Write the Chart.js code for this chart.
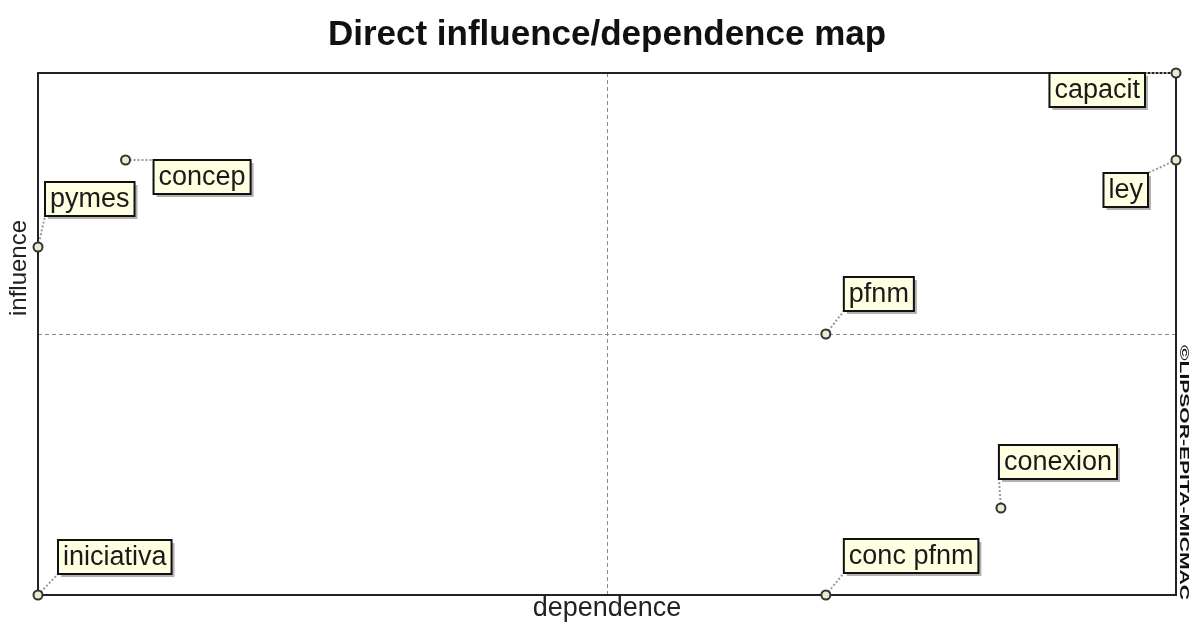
<!DOCTYPE html>
<html>
<head>
<meta charset="utf-8">
<title>Direct influence/dependence map</title>
<script src="https://cdn.jsdelivr.net/npm/chart.js@4.4.0/dist/chart.umd.min.js"></script>
<style>
  html, body { margin: 0; padding: 0; background: #fff; }
  #wrap { width: 1192px; height: 625px; position: relative; }
</style>
</head>
<body>
<div id="wrap"><canvas id="mapa"></canvas></div>
<script>
const variables  = ['capacit', 'ley', 'concep', 'pymes', 'pfnm', 'conexion', 'iniciativa', 'conc pfnm'];
const dependence = [13, 13, 1, 0, 9, 11, 0, 9];
const influence  = [6, 5, 5, 4, 3, 1, 0, 0];

// Ejes y líneas de referencia (cuadrantes)
const xRange = [0, 13];
const yRange = [0, 6];
const refX = 6.5;
const refY = 3;

// Colocación de etiquetas: lado del punto, desplazamiento horizontal y vertical
const labelPlace = [
    ['r', -31, 0], ['r', -28, 13], ['l', 28, 0], ['l', 7, -65],
    ['l', 18, -57], ['l', -2, -63], ['l', 20, -55], ['l', 18, -56]
];

const FONT = '"Liberation Sans", Arial, sans-serif';

const mapaPlugin = {
    id: 'mapaPlugin',
    beforeDatasetsDraw(chart) {
        const ctx = chart.ctx, a = chart.chartArea;
        const xs = chart.scales.x, ys = chart.scales.y;
        ctx.save();
        // líneas de cuadrantes
        ctx.strokeStyle = '#8a8a8a';
        ctx.lineWidth = 1;
        ctx.setLineDash([4, 3]);
        const mx = Math.round(xs.getPixelForValue(refX)) + 0.5;
        const my = Math.round(ys.getPixelForValue(refY)) + 0.5;
        ctx.beginPath();
        ctx.moveTo(mx, a.top); ctx.lineTo(mx, a.bottom);
        ctx.moveTo(a.left, my); ctx.lineTo(a.right, my);
        ctx.stroke();
        ctx.setLineDash([]);
        // marco
        ctx.strokeStyle = '#222';
        ctx.lineWidth = 2;
        ctx.strokeRect(a.left, a.top, a.right - a.left, a.bottom - a.top);

        // conectores punteados
        ctx.font = '27px ' + FONT;
        ctx.strokeStyle = '#9a9a9a';
        ctx.lineWidth = 2;
        ctx.setLineDash([2, 2]);
        chart._cajas = [];
        variables.forEach(function(nombre, i) {
            const px = xs.getPixelForValue(dependence[i]);
            const py = ys.getPixelForValue(influence[i]);
            const w = ctx.measureText(nombre).width + 10;
            const h = 34;
            const p = labelPlace[i];
            const left = p[0] === 'l' ? px + p[1] : px + p[1] - w;
            const top = py + p[2];
            chart._cajas.push({ nombre: nombre, left: left, top: top, w: w, h: h });
            // esquina más cercana
            const cx = Math.abs(left - px) < Math.abs(left + w - px) ? left : left + w;
            const cy = Math.abs(top - py) < Math.abs(top + h - py) ? top : top + h;
            ctx.beginPath();
            ctx.moveTo(px, py);
            ctx.lineTo(cx, cy);
            ctx.stroke();
        });
        ctx.restore();
    },
    afterDatasetsDraw(chart) {
        const ctx = chart.ctx;
        ctx.save();
        // etiquetas con sombra
        ctx.font = '27px ' + FONT;
        ctx.textBaseline = 'middle';
        (chart._cajas || []).forEach(function(c) {
            ctx.fillStyle = 'rgba(0,0,0,0.3)';
            ctx.fillRect(c.left + 3, c.top + 3, c.w, c.h);
            ctx.fillStyle = '#ffffe1';
            ctx.fillRect(c.left, c.top, c.w, c.h);
            ctx.strokeStyle = '#111';
            ctx.lineWidth = 2;
            ctx.strokeRect(c.left, c.top, c.w, c.h);
            ctx.fillStyle = '#1a1a1a';
            ctx.textAlign = 'left';
            ctx.fillText(c.nombre, c.left + 5, c.top + c.h / 2 + 1);
        });

        // título
        ctx.fillStyle = '#111';
        ctx.textAlign = 'center';
        ctx.font = 'bold 35px ' + FONT;
        ctx.fillText('Direct influence/dependence map', 607, 35);

        // títulos de ejes
        ctx.font = '27px ' + FONT;
        ctx.fillStyle = '#222';
        ctx.fillText('dependence', 607, 609);
        ctx.save();
        ctx.translate(19, 268);
        ctx.rotate(-Math.PI / 2);
        ctx.font = '24px ' + FONT;
        ctx.fillText('influence', 0, 0);
        ctx.restore();

        // copyright vertical
        ctx.save();
        ctx.translate(1184, 345);
        ctx.rotate(Math.PI / 2);
        ctx.font = 'bold 13px ' + FONT;
        const txt = '\u00A9LIPSOR-EPITA-MICMAC';
        const tw = ctx.measureText(txt).width;
        ctx.scale(255 / tw, 1);
        ctx.textAlign = 'left';
        ctx.fillStyle = '#111';
        ctx.fillText(txt, 0, 0);
        ctx.restore();
        ctx.restore();
    }
};

new Chart(document.getElementById('mapa'), {
    type: 'scatter',
    data: {
        labels: variables,
        datasets: [{
            data: dependence.map(function(d, i) { return { x: d, y: influence[i] }; }),
            pointRadius: 4.5,
            pointHoverRadius: 4.5,
            pointBackgroundColor: '#ecebd2',
            pointBorderColor: '#333',
            pointBorderWidth: 2,
            clip: false
        }]
    },
    options: {
        responsive: true,
        maintainAspectRatio: false,
        animation: false,
        layout: { padding: { left: 38, top: 73, right: 16, bottom: 30 } },
        plugins: { legend: { display: false }, tooltip: { enabled: false } },
        scales: {
            x: { type: 'linear', min: xRange[0], max: xRange[1], display: false },
            y: { type: 'linear', min: yRange[0], max: yRange[1], display: false }
        }
    },
    plugins: [mapaPlugin]
});
</script>
</body>
</html>
